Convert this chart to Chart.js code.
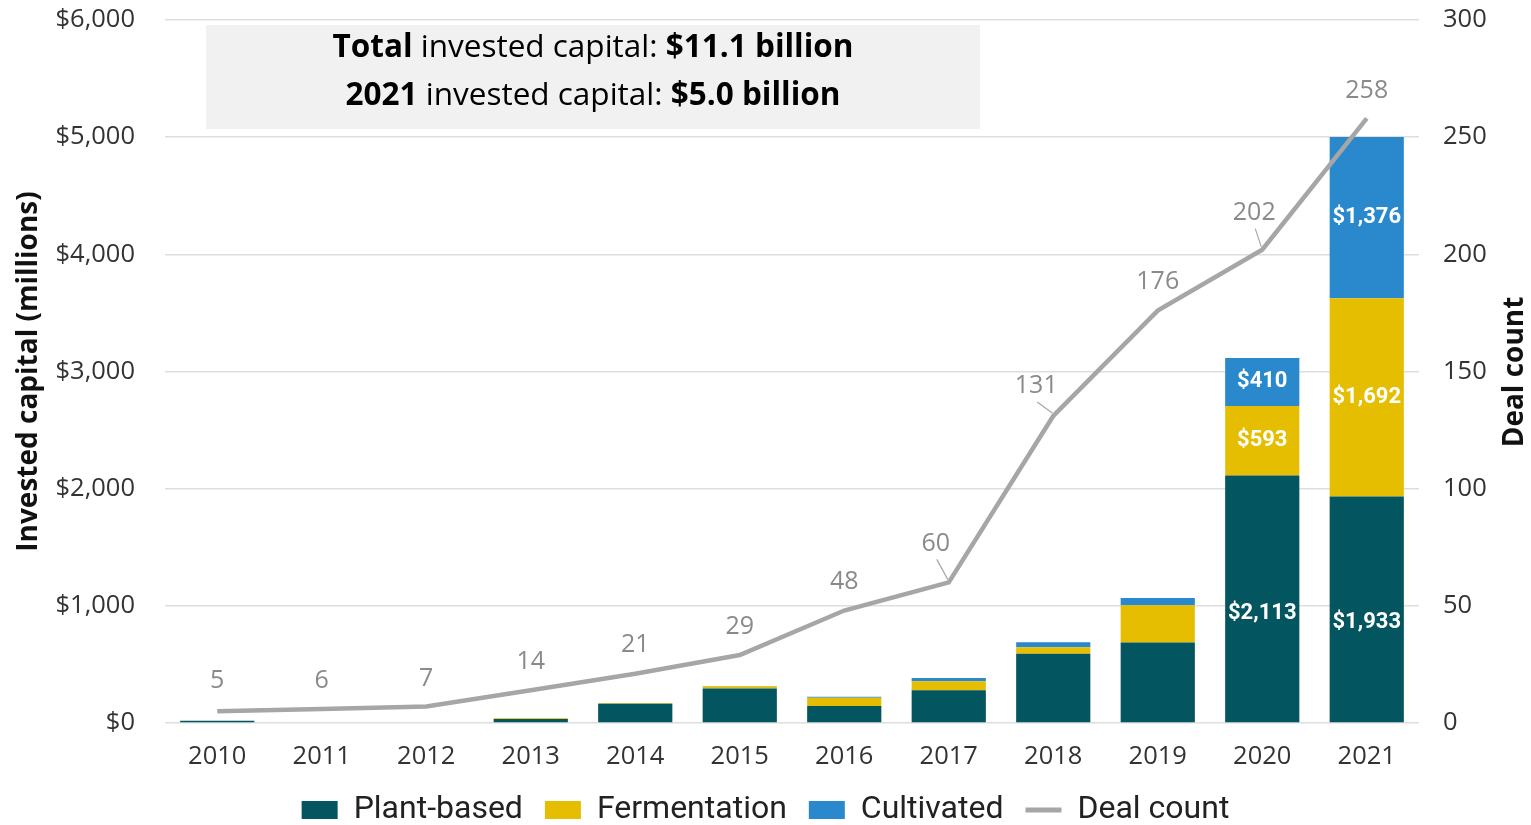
<!DOCTYPE html>
<html>
<head>
<meta charset="utf-8">
<script src="https://cdn.jsdelivr.net/npm/chart.js@4.4.1/dist/chart.umd.min.js"></script>
<style>
  html, body { margin: 0; padding: 0; background: #fff; }
  #wrap { width: 1531px; height: 825px; }
</style>
</head>
<body>
<div id="wrap"><canvas id="myChart"></canvas></div>
<script>
const years = ["2010", "2011", "2012", "2013", "2014", "2015", "2016", "2017", "2018", "2019", "2020", "2021"];
const plantBased = [20, 0, 0, 35, 165, 295, 145, 280, 590, 687, 2113, 1933];
const fermentation = [0, 0, 0, 5, 5, 18, 70, 77, 57, 319, 593, 1692];
const cultivated = [0, 0, 0, 0, 0, 2, 8, 28, 43, 60, 410, 1376];
const dealCount = [5, 6, 7, 14, 21, 29, 48, 60, 131, 176, 202, 258];
const capitalTicks = [0, 1000, 2000, 3000, 4000, 5000, 6000];
const dealTicks = [0, 50, 100, 150, 200, 250, 300];

// nudges for the deal count labels (px), some sit off to the left with a leader line
const labelDx = [0, 0, 0, 0, 0, 0, 0, -13, -17, 0, -8, 0];
const labelDy = [30, 28, 28, 28, 29, 28, 29, 39, 30, 29, 37, 28];

const money = (v) => "$" + v.toLocaleString("en-US");

const summaryBox = {
  id: "summaryBox",
  beforeDatasetsDraw(chart) {
    const c = chart.ctx;
    c.save();
    c.fillStyle = "#f1f1f1";
    c.fillRect(206, 25, 774, 104);
    const lines = [
      [["Total", true], [" invested capital: ", false], ["$11.1 billion", true]],
      [["2021", true], [" invested capital: ", false], ["$5.0 billion", true]],
    ];
    const ys = [48, 96];
    c.textBaseline = "middle";
    c.fillStyle = "#000";
    lines.forEach((parts, i) => {
      let total = 0;
      parts.forEach(([t, b]) => {
        c.font = (b ? "bold " : "") + "31.5px 'Open Sans'";
        total += c.measureText(t).width;
      });
      let x = 593 - total / 2;
      parts.forEach(([t, b]) => {
        c.font = (b ? "bold " : "") + "31.5px 'Open Sans'";
        c.textAlign = "left";
        c.fillText(t, x, ys[i]);
        x += c.measureText(t).width;
      });
    });
    c.restore();
  },
};

const valueLabels = {
  id: "valueLabels",
  afterDatasetsDraw(chart) {
    const c = chart.ctx;
    c.save();
    c.textAlign = "center";
    c.textBaseline = "middle";

    // white values inside the two big stacks; the plant-based ones sit a little low
    c.font = "bold 22px Roboto";
    c.fillStyle = "#fff";
    [0, 1, 2].forEach((di) => {
      const meta = chart.getDatasetMeta(di);
      [10, 11].forEach((i) => {
        const bar = meta.data[i];
        const v = chart.data.datasets[di].data[i];
        const frac = di === 0 ? 0.44 : 0.5;
        const y = bar.base - (bar.base - bar.y) * frac;
        c.fillText(money(v), bar.x, y);
      });
    });

    // deal count labels above the line
    const lineMeta = chart.getDatasetMeta(3);
    c.font = "25px 'Open Sans'";
    c.fillStyle = "#8a8a8a";
    c.strokeStyle = "#a6a6a6";
    c.lineWidth = 1.2;
    lineMeta.data.forEach((pt, i) => {
      const lx = pt.x + labelDx[i];
      const ly = pt.y - labelDy[i];
      c.fillText(dealCount[i], lx, ly);
      if (labelDx[i] !== 0) {
        c.beginPath();
        c.moveTo(lx + 1, ly + 16);
        c.lineTo(pt.x - 1, pt.y - 3);
        c.stroke();
      }
    });
    c.restore();
  },
};

const rightTitle = {
  id: "rightTitle",
  afterDraw(chart) {
    const c = chart.ctx;
    c.save();
    c.translate(1515, 372);
    c.rotate(-Math.PI / 2);
    c.font = "bold 28px 'Open Sans'";
    c.fillStyle = "#111";
    c.textAlign = "center";
    c.textBaseline = "middle";
    c.fillText("Deal count", 0, 0);
    c.restore();
  },
};

const tickFont = { family: "Open Sans", size: 25.5 };

const ctx = document.getElementById("myChart");

new Chart(ctx, {
  type: "bar",
  data: {
    labels: years,
    datasets: [
      { label: "Plant-based", data: plantBased, backgroundColor: "#03555f", order: 1, yAxisID: "y" },
      { label: "Fermentation", data: fermentation, backgroundColor: "#e5be01", order: 1, yAxisID: "y" },
      { label: "Cultivated", data: cultivated, backgroundColor: "#2a89cd", order: 1, yAxisID: "y" },
      {
        type: "line",
        label: "Deal count",
        data: dealCount,
        borderColor: "#a6a6a6",
        backgroundColor: "#a6a6a6",
        borderWidth: 4.5,
        pointRadius: 0,
        tension: 0,
        yAxisID: "y1",
        order: 0,
      },
    ],
  },
  options: {
    responsive: true,
    maintainAspectRatio: false,
    animation: false,
    datasets: { bar: { categoryPercentage: 1, barPercentage: 0.71 } },
    layout: { padding: { top: 20, left: 0, right: 0, bottom: -11 } },
    scales: {
      x: {
        stacked: true,
        grid: { display: false },
        border: { display: false },
        ticks: { font: tickFont, color: "#333", padding: 10 },
        afterFit: (s) => { s.height = 49; },
      },
      y: {
        stacked: true,
        min: 0,
        max: 6000,
        afterBuildTicks: (s) => { s.ticks = capitalTicks.map((v) => ({ value: v })); },
        ticks: { callback: (v) => money(v), font: tickFont, color: "#333", padding: 0 },
        grid: { color: "#dedede", lineWidth: 1.5, drawTicks: true, tickLength: 30, tickColor: "rgba(0,0,0,0)" },
        border: { display: false },
        title: {
          display: true,
          text: "Invested capital (millions)",
          font: { family: "Open Sans", size: 28, weight: "bold" },
          color: "#111",
          padding: { top: 12 },
        },
        afterFit: (s) => { s.width = 165; },
      },
      y1: {
        position: "right",
        min: 0,
        max: 300,
        afterBuildTicks: (s) => { s.ticks = dealTicks.map((v) => ({ value: v })); },
        ticks: { font: tickFont, color: "#333", padding: 0 },
        grid: { drawOnChartArea: false, drawTicks: true, tickLength: 24, tickColor: "rgba(0,0,0,0)" },
        border: { display: false },
        afterFit: (s) => { s.width = 112; },
      },
    },
    plugins: {
      tooltip: { enabled: false },
      legend: {
        position: "bottom",
        labels: {
          usePointStyle: true,
          pointStyleWidth: 36,
          boxHeight: 18,
          padding: 22,
          color: "#222",
          font: { family: "Roboto", size: 32 },
          sort: (a, b) => a.datasetIndex - b.datasetIndex,
          generateLabels: (chart) =>
            Chart.defaults.plugins.legend.labels.generateLabels(chart).map((item) => {
              const isLine = item.datasetIndex === 3;
              item.pointStyle = isLine ? "line" : "rect";
              item.lineWidth = isLine ? 5 : 0;
              return item;
            }),
        },
      },
    },
  },
  plugins: [summaryBox, valueLabels, rightTitle],
});
</script>
</body>
</html>
